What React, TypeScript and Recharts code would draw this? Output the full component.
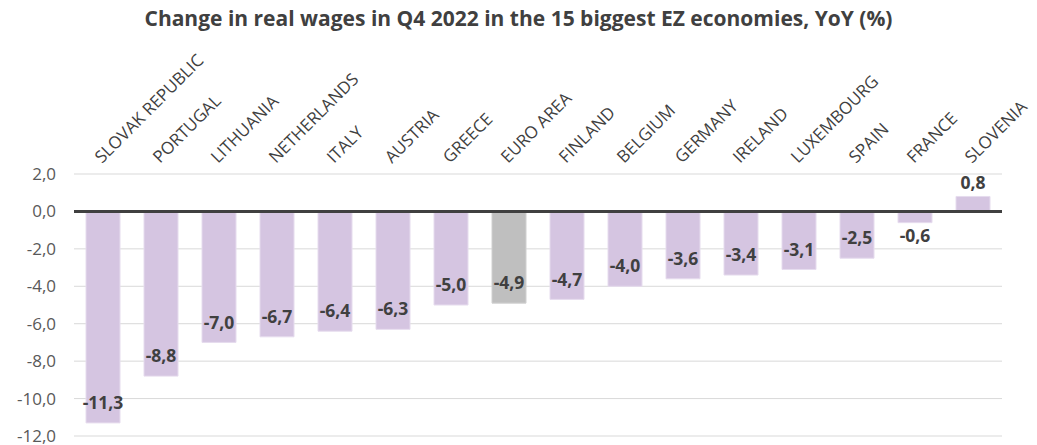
import React from 'react';
import { BarChart, Bar, XAxis, YAxis, CartesianGrid, ReferenceLine, Cell, LabelList } from 'recharts';

const countries = [
  'SLOVAK REPUBLIC', 'PORTUGAL', 'LITHUANIA', 'NETHERLANDS', 'ITALY', 'AUSTRIA', 'GREECE', 'EURO AREA',
  'FINLAND', 'BELGIUM', 'GERMANY', 'IRELAND', 'LUXEMBOURG', 'SPAIN', 'FRANCE', 'SLOVENIA',
];
const wageChange = [-11.3, -8.8, -7.0, -6.7, -6.4, -6.3, -5.0, -4.9, -4.7, -4.0, -3.6, -3.4, -3.1, -2.5, -0.6, 0.8];
const yTicks = [-12, -10, -8, -6, -4, -2, 0, 2];

const data = countries.map((name, i) => ({ name, value: wageChange[i] }));

const fmt = (v: number) => v.toFixed(1).replace('.', ',');
const FONT = '"Open Sans", sans-serif';

const CountryTick = (props: any) => {
  const { x, payload } = props;
  const tx = x - 1;
  const ty = 164;
  return (
    <text x={tx} y={ty} transform={`rotate(-45, ${tx}, ${ty})`} textAnchor="start"
      fontSize={17} fill="#404040" fontFamily={FONT}>
      {payload.value}
    </text>
  );
};

const ValueLabel = (props: any) => {
  const { x, y, width, height, value } = props;
  const top = Math.min(y, y + height);
  const bottom = Math.max(y, y + height);
  const h = bottom - top;
  let cy: number;
  if (value >= 0) cy = top - 14;
  else if (h >= 25) cy = bottom - 20;
  else cy = bottom + 13;
  return (
    <text x={x + width / 2} y={cy} dy="0.35em" textAnchor="middle" fontSize={17.5}
      fontWeight="bold" fill="#404040" fontFamily={FONT}>
      {fmt(value)}
    </text>
  );
};

export default function App() {
  return (
    <div style={{ position: 'absolute', left: 0, top: 0, width: 1037, height: 445, background: '#fff' }}>
      <div style={{
        position: 'absolute', left: 0, top: 4, width: 1037, textAlign: 'center',
        fontFamily: FONT, fontWeight: 700, fontSize: 21, color: '#404040',
      }}>
        Change in real wages in Q4 2022 in the 15 biggest EZ economies, YoY (%)
      </div>
      <BarChart width={1037} height={445} data={data}
        margin={{ top: 144, right: 35, bottom: 9, left: 0 }} barSize={34}>
        <CartesianGrid vertical={false} stroke="#d9d9d9" strokeWidth={1} />
        <XAxis dataKey="name" orientation="top" axisLine={false} tickLine={false}
          interval={0} tick={<CountryTick />} height={30} />
        <YAxis domain={[-12, 2]} ticks={yTicks} axisLine={false} tickLine={false} width={74}
          tickMargin={12} tickFormatter={fmt} interval={0}
          tick={{ fontSize: 17, fill: '#595959', fontFamily: FONT }} />
        <Bar dataKey="value" isAnimationActive={false} stroke="#e6dcee" strokeWidth={1}>
          {data.map((d) => (
            <Cell key={d.name} fill={d.name === 'EURO AREA' ? '#bfbfbf' : '#d5c5e1'}
              stroke={d.name === 'EURO AREA' ? '#d0d0d0' : '#e6dcee'} />
          ))}
          <LabelList dataKey="value" content={<ValueLabel />} />
        </Bar>
        <ReferenceLine y={0} stroke="#404040" strokeWidth={3} />
      </BarChart>
    </div>
  );
}
